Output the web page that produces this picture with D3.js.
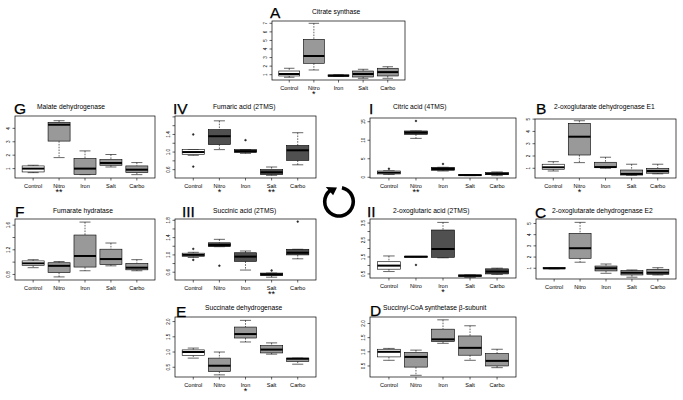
<!DOCTYPE html>
<html><head><meta charset="utf-8">
<script src="https://cdn.jsdelivr.net/npm/d3@7"></script>
<style>
html,body{margin:0;padding:0;background:#fff;}
svg{display:block;font-family:"Liberation Sans",Arial,Helvetica,sans-serif;}
</style></head>
<body>
<svg id="chart" width="683" height="400"></svg>
<script>
// ---------- DATA ----------
const groups = ["Control", "Nitro", "Iron", "Salt", "Carbo"];
// each row: [lower whisker, Q1, median, Q3, upper whisker]
const citrateSynthase = [[0.7,0.85,1.08,1.43,1.75],[1.55,2.33,3.18,5.13,7.0],[0.8,0.82,0.88,0.98,1.0],[0.58,0.73,1.08,1.43,1.63],[0.58,0.85,1.3,1.75,1.93]];
const malateDH = [[0.7,0.75,1.0,1.2,1.25],[1.82,3.05,4.27,4.45,4.57],[0.55,0.55,1.0,1.75,2.32],[1.12,1.25,1.42,1.67,2.05],[0.55,0.7,0.92,1.2,1.45]];
const fumaricAcid = [[0.925,0.94,1.0,1.055,1.055],[1.055,1.17,1.36,1.51,1.71],[0.97,0.99,1.02,1.055,1.055],[0.47,0.49,0.54,0.6,0.66],[0.71,0.81,1.04,1.15,1.44]];
const fumaricAcidOut = [[1.4,0.67],[],[1.27],[],[]];
const citricAcid = [[0.75,0.9,1.25,1.7,1.75],[10.5,11.6,12.05,12.5,12.5],[1.7,1.9,2.25,2.7,2.7],[0.45,0.5,0.6,0.7,0.75],[0.45,0.7,0.95,1.25,1.45]];
const citricAcidOut = [[2.3],[15.2],[3.6],[],[]];
const ogdhE1 = [[0.78,0.92,1.08,1.33,1.54],[1.46,2.08,3.57,4.66,4.87],[1.0,1.05,1.1,1.49,1.9],[0.43,0.45,0.54,0.86,1.33],[0.55,0.6,0.78,1.0,1.33]];
const fumarateHydratase = [[0.91,0.945,0.98,1.02,1.04],[0.76,0.83,0.94,0.99,1.01],[0.86,0.92,1.10,1.44,1.65],[0.94,0.96,1.05,1.21,1.31],[0.86,0.875,0.91,0.98,1.04]];
const succinicAcid = [[0.94,0.965,1.0,1.04,1.06],[1.19,1.19,1.23,1.28,1.36],[0.65,0.85,0.96,1.05,1.09],[0.485,0.52,0.55,0.58,0.58],[0.91,1.0,1.05,1.13,1.13]];
const succinicAcidOut = [[1.14,0.885],[0.75],[],[0.64],[1.77]];
const oxoglutaricAcid = [[0.64,0.78,0.99,1.22,1.56],[1.5,1.5,1.52,1.53,1.53],[1.45,1.48,1.97,3.09,3.54],[0.3,0.34,0.4,0.44,0.44],[0.47,0.5,0.64,0.8,0.84]];
const oxoglutaricAcidOut = [[],[1.03],[],[],[]];
const ogdhE2 = [[0.95,0.95,1.0,1.05,1.05],[1.54,1.89,2.79,4.12,5.1],[0.55,0.76,1.0,1.2,1.38],[0.2,0.4,0.6,0.79,0.85],[0.4,0.46,0.6,0.91,1.05]];
const succinateDH = [[0.8,0.89,1.0,1.07,1.13],[0.25,0.36,0.55,0.8,1.0],[1.33,1.46,1.59,1.82,2.04],[0.93,0.97,1.08,1.21,1.30],[0.6,0.69,0.78,0.8,0.8]];
const succinylCoA = [[0.70,0.82,1.0,1.09,1.12],[0.17,0.46,0.82,0.98,1.06],[1.3,1.36,1.44,1.80,2.13],[0.70,0.88,1.14,1.56,1.92],[0.44,0.5,0.68,0.94,1.09]];
// significance marks per group
const starsA  = ["","*","","",""];
const starsG  = ["","**","","",""];
const starsIV = ["","*","","**",""];
const starsI  = ["","**","","",""];
const starsB  = ["","*","","",""];
const starsIII= ["","","","**",""];
const starsII = ["","","*","",""];
const starsE  = ["","","*","",""];
const none    = ["","","","",""];
// tick values and the tick labels that are printed
const ticksA  = [1,2,3,4,5,6,7],  labA = ["1","2","3","4","5","6","7"];
const ticksG  = [1,2,3,4],        labG = ["1","2","3","4"];
const ticksIV = [0.6,0.8,1.0,1.2,1.4,1.6,1.8], labIV = ["0.6","1.0","1.4"];
const ticksI  = [0,5,10,15],      labI = ["0","5","10","15"];
const ticksB  = [1,2,3,4,5],      labB = ["1","2","3","4","5"];
const ticksF  = [0.8,1.0,1.2,1.4,1.6], labF = ["0.8","1.2","1.6"];
const ticksIII= [0.6,0.8,1.0,1.2,1.4,1.6,1.8], labIII = ["0.6","1.0","1.4","1.8"];
const ticksII = [0.5,1.0,1.5,2.0,2.5,3.0,3.5], labII = ["0.5","1.5","2.5","3.5"];
const ticksC  = [1,2,3,4,5],      labC = ["1","2","3","4","5"];
const ticksE  = [0.5,1.0,1.5,2.0], labE = ["0.5","1.0","1.5","2.0"];
const ticksD  = [0.5,1.0,1.5,2.0], labD = ["0.5","1.0","1.5","2.0"];

// ---------- LAYOUT ----------
const LIGHT = "#999999", DARK = "#505050";
const panels = [
 {letter:"A", title:"Citrate synthase", stats:citrateSynthase, out:null, stars:starsA, ticks:ticksA, labels:labA, fill:LIGHT,
  box:[272,405,21,80], dom:[0.38,7.27], lx:270, ly:18, tx:312, ty:14},
 {letter:"G", title:"Malate dehydrogenase", stats:malateDH, out:null, stars:starsG, ticks:ticksG, labels:labG, fill:LIGHT,
  box:[15,155,116,178], dom:[0.3,4.92], lx:14, ly:114, tx:37, ty:108.5},
 {letter:"IV", title:"Fumaric acid (2TMS)", stats:fumaricAcid, out:fumaricAcidOut, stars:starsIV, ticks:ticksIV, labels:labIV, fill:DARK,
  box:[175,316,116,178], dom:[0.41,1.82], lx:173, ly:114, tx:213, ty:108.5},
 {letter:"I", title:"Citric acid (4TMS)", stats:citricAcid, out:citricAcidOut, stars:starsI, ticks:ticksI, labels:labI, fill:DARK,
  box:[370,516,118,178], dom:[-0.19,16.0], lx:369, ly:114, tx:393, ty:108.5},
 {letter:"B", title:"2-oxoglutarate dehydrogenase E1", stats:ogdhE1, out:null, stars:starsB, ticks:ticksB, labels:labB, fill:LIGHT,
  box:[535,676,119,178], dom:[0.21,5.01], lx:536, ly:114, tx:554, ty:108.5},
 {letter:"F", title:"Fumarate hydratase", stats:fumarateHydratase, out:null, stars:none, ticks:ticksF, labels:labF, fill:LIGHT,
  box:[15,155,219,280], dom:[0.71,1.70], lx:15, ly:217, tx:53, ty:212.5},
 {letter:"III", title:"Succinic acid (2TMS)", stats:succinicAcid, out:succinicAcidOut, stars:starsIII, ticks:ticksIII, labels:labIII, fill:DARK,
  box:[175,316,219,280], dom:[0.42,1.83], lx:182, ly:217, tx:213, ty:212.5},
 {letter:"II", title:"2-oxoglutaric acid (2TMS)", stats:oxoglutaricAcid, out:oxoglutaricAcidOut, stars:starsII, ticks:ticksII, labels:labII, fill:DARK,
  box:[370,516,219,278], dom:[0.26,3.74], lx:367, ly:217, tx:393, ty:212.5},
 {letter:"C", title:"2-oxoglutarate dehydrogenase E2", stats:ogdhE2, out:null, stars:none, ticks:ticksC, labels:labC, fill:LIGHT,
  box:[536,676,219,279], dom:[0.04,5.40], lx:535, ly:218, tx:552, ty:213},
 {letter:"E", title:"Succinate dehydrogenase", stats:succinateDH, out:null, stars:starsE, ticks:ticksE, labels:labE, fill:LIGHT,
  box:[175,316,317,377], dom:[0.18,2.15], lx:176, ly:317, tx:205, ty:310},
 {letter:"D", title:"Succinyl-CoA synthetase \u03b2-subunit", stats:succinylCoA, out:null, stars:none, ticks:ticksD, labels:labD, fill:LIGHT,
  box:[370,516,317,377], dom:[0.11,2.23], lx:370, ly:316, tx:383, ty:310}
];

const svg = d3.select("#chart");

panels.forEach(p => {
  const [x0,x1,y0,y1] = p.box;
  const g = svg.append("g");
  const x = d3.scaleLinear().domain([0.3,5.7]).range([x0,x1]);
  const y = d3.scaleLinear().domain(p.dom).range([y1,y0]);
  const unit = x(1)-x(0);
  const bw = unit*0.85, cap = bw*0.5;

  // panel letter & title
  g.append("text").attr("x",p.lx).attr("y",p.ly).attr("font-size",15.5).attr("fill","#000")
    .attr("stroke","#000").attr("stroke-width",0.25).text(p.letter);
  g.append("text").attr("x",p.tx).attr("y",p.ty).attr("font-size",6.7).attr("fill","#000").text(p.title);

  // boxes
  p.stats.forEach((s,i) => {
    const cx = x(i+1);
    const fill = i===0 ? "#fff" : p.fill;
    const [lo,q1,md,q3,hi] = s;
    g.append("line").attr("x1",cx).attr("x2",cx).attr("y1",y(hi)).attr("y2",y(q3))
      .attr("stroke","#000").attr("stroke-width",0.6).attr("stroke-dasharray","1.6,1.2");
    g.append("line").attr("x1",cx).attr("x2",cx).attr("y1",y(q1)).attr("y2",y(lo))
      .attr("stroke","#000").attr("stroke-width",0.6).attr("stroke-dasharray","1.6,1.2");
    [lo,hi].forEach(v => g.append("line").attr("x1",cx-cap/2).attr("x2",cx+cap/2).attr("y1",y(v)).attr("y2",y(v))
      .attr("stroke","#000").attr("stroke-width",0.6));
    g.append("rect").attr("x",cx-bw/2).attr("width",bw).attr("y",y(q3)).attr("height",Math.max(0.8,y(q1)-y(q3)))
      .attr("fill",fill).attr("stroke","#000").attr("stroke-width",0.6);
    g.append("line").attr("x1",cx-bw/2).attr("x2",cx+bw/2).attr("y1",y(md)).attr("y2",y(md))
      .attr("stroke","#000").attr("stroke-width",2);
    if (p.out) p.out[i].forEach(v => g.append("circle").attr("cx",cx).attr("cy",y(v)).attr("r",0.9)
      .attr("fill","#333").attr("stroke","#000").attr("stroke-width",0.4));
    g.append("line").attr("x1",cx).attr("x2",cx).attr("y1",y1).attr("y2",y1+2.5).attr("stroke","#000").attr("stroke-width",0.6);
    g.append("text").attr("x",cx).attr("y",y1+9.5).attr("text-anchor","middle").attr("font-size",5.6).text(groups[i]);
    if (p.stars[i]) g.append("text").attr("x",cx).attr("y",y1+17).attr("text-anchor","middle").attr("font-size",9).text(p.stars[i]);
  });

  // y axis ticks and labels
  p.ticks.forEach(t => {
    const ty = y(t);
    g.append("line").attr("x1",x0-2.5).attr("x2",x0).attr("y1",ty).attr("y2",ty).attr("stroke","#000").attr("stroke-width",0.6);
    const lab = p.labels.find(l => Math.abs(+l - t) < 1e-9);
    if (lab) g.append("text").attr("transform",`translate(${x0-5},${ty}) rotate(-90)`)
      .attr("text-anchor","middle").attr("font-size",4.6).text(lab);
  });

  // frame
  g.append("rect").attr("x",x0).attr("y",y0).attr("width",x1-x0).attr("height",y1-y0)
    .attr("fill","none").attr("stroke","#000").attr("stroke-width",0.7);
});

// circular arrow (cycle symbol)
(function(){
  const cx = 339, cy = 201.7, r = 14.3;
  const pt = (deg, rr) => { const a = deg*Math.PI/180; return [cx + rr*Math.sin(a), cy - rr*Math.cos(a)]; };
  const arc = d3.arc()({innerRadius:r-1.8, outerRadius:r+1.8, startAngle:12*Math.PI/180, endAngle:322*Math.PI/180});
  svg.append("path").attr("d",arc).attr("transform",`translate(${cx},${cy})`).attr("fill","#000");
  const tip = pt(352, r), b1 = pt(318, r-5.5), b2 = pt(318, r+5.5);
  svg.append("path").attr("d",`M${tip[0]},${tip[1]}L${b1[0]},${b1[1]}L${b2[0]},${b2[1]}Z`).attr("fill","#000");
})();
</script>
</body></html>
